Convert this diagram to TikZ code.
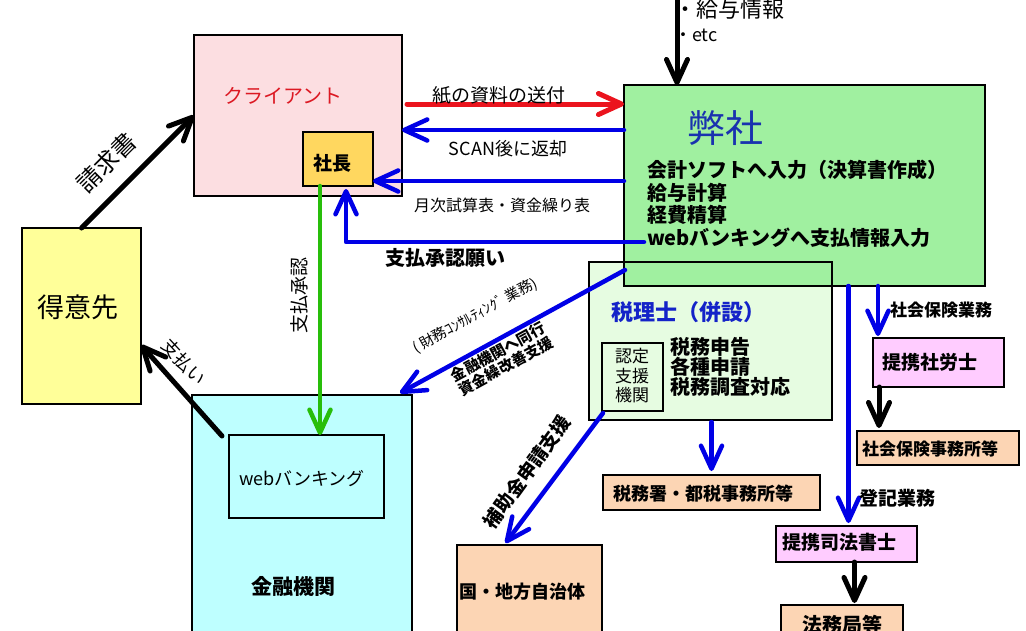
\documentclass[tikz,border=0pt]{standalone}
\usepackage{fontspec}
\setmainfont{Noto Sans CJK JP}
\usetikzlibrary{arrows.meta}
\definecolor{clientfill}{RGB}{252,222,225}
\definecolor{shachofill}{RGB}{255,215,95}
\definecolor{tokuifill}{RGB}{255,255,153}
\definecolor{kinyufill}{RGB}{190,255,255}
\definecolor{heifill}{RGB}{160,240,160}
\definecolor{zeifill}{RGB}{230,252,225}
\definecolor{peach}{RGB}{252,213,180}
\definecolor{pinkfill}{RGB}{255,204,255}
\definecolor{arrblue}{RGB}{0,0,230}
\definecolor{arrred}{RGB}{235,20,30}
\definecolor{arrgreen}{RGB}{40,190,10}
\definecolor{heiblue}{RGB}{25,50,175}
\definecolor{zeiblue}{RGB}{20,35,200}
\definecolor{clientred}{RGB}{220,25,35}
\newcommand\myfs[1]{\fontsize{#1}{#1}\selectfont}
\tikzset{
  box/.style={draw=black, line width=1.8pt, anchor=north west, inner sep=0pt, outer sep=0pt},
  lbl/.style={inner sep=0pt, outer sep=0pt},
  conn/.style={line width=#1, line cap=round, line join=round,
    -{Straight Barb[length=23pt, width=21pt, round]}},
}
\begin{document}
\begin{tikzpicture}[x=1pt,y=-1pt]
\clip (0,0) rectangle (1026,630);
\fill[white] (0,0) rectangle (1026,630);

% ---------- boxes ----------
\node[box, fill=clientfill, minimum width=208pt, minimum height=161pt] (client) at (194,35) {};
\node[box, fill=shachofill, minimum width=70pt, minimum height=54pt] (shacho) at (303,132) {};
\node[box, fill=tokuifill, minimum width=119pt, minimum height=176pt] (tokui) at (22,228) {};
\node[box, fill=kinyufill, minimum width=220pt, minimum height=260pt] (kinyu) at (192,395) {};
\node[box, fill=kinyufill, minimum width=155pt, minimum height=83pt] (webbank) at (229,435) {};
\node[box, fill=zeifill, draw=none, minimum width=243pt, minimum height=158pt] (zeirishi) at (589,262) {};
\node[box, fill=heifill, line width=1.6pt, minimum width=361pt, minimum height=201pt] (heisha) at (624,85) {};
\draw[line width=1.8pt] (zeirishi.north west) rectangle (zeirishi.south east);
\node[box, minimum width=61pt, minimum height=68pt] (nintei) at (602,343) {};
\node[box, fill=peach, minimum width=217pt, minimum height=35pt] (zeimusho) at (603,475) {};
\node[box, fill=peach, minimum width=145pt, minimum height=100pt] (kuni) at (457,545) {};
\node[box, fill=pinkfill, minimum width=131pt, minimum height=49pt] (sharoushi) at (873,338) {};
\node[box, fill=peach, minimum width=162pt, minimum height=34pt] (shakai) at (857,431) {};
\node[box, fill=pinkfill, minimum width=141pt, minimum height=36pt] (shiho) at (776,526) {};
\node[box, fill=peach, minimum width=122pt, minimum height=50pt] (houmu) at (781,605) {};

% ---------- texts in boxes ----------
\node[lbl, font=\myfs{20}, text=clientred] (clientlbl) at (283,96) {クライアント};
\node[lbl, font=\myfs{19}\bfseries] (shacholbl) at (332,163) {社長};
\node[lbl, font=\myfs{27}] (tokuilbl) at (78,307) {得意先};
\node[lbl, font=\myfs{18}] (webbanklbl) at (302,479) {webバンキング};
\node[lbl, font=\myfs{21}\bfseries] (kinyulbl) at (293,586) {金融機関};
\node[lbl, font=\myfs{38}, text=heiblue] (heititle) at (725,128) {弊社};
\node[lbl, anchor=west, font=\myfs{20}\bfseries] (hl1) at (647,170) {会計ソフトへ入力（決算書作成）};
\node[lbl, anchor=west, font=\myfs{20}\bfseries] (hl2) at (647,192.5) {給与計算};
\node[lbl, anchor=west, font=\myfs{20}\bfseries] (hl3) at (647,215) {経費精算};
\node[lbl, anchor=west, font=\myfs{20}\bfseries] (hl4) at (647,237.5) {webバンキングへ支払情報入力};
\node[lbl, anchor=west, font=\myfs{22}\bfseries, text=zeiblue] (zeititle) at (611,312) {税理士（併設）};
\node[lbl, align=center, font=\fontsize{17}{19.5}\selectfont] (ninteilbl) at (632,376) {認定\\支援\\機関};
\node[lbl, anchor=west, font=\myfs{20}\bfseries] (zl1) at (670,347) {税務申告};
\node[lbl, anchor=west, font=\myfs{20}\bfseries] (zl2) at (670,367) {各種申請};
\node[lbl, anchor=west, font=\myfs{20}\bfseries] (zl3) at (670,387) {税務調査対応};
\node[lbl, font=\myfs{18}\bfseries] (zeimusholbl) at (703,494) {税務署・都税事務所等};
\node[lbl, font=\myfs{18}\bfseries] (kunilbl) at (522,592) {国・地方自治体};
\node[lbl, font=\myfs{19}\bfseries] (sharoushilbl) at (930,362) {提携社労士};
\node[lbl, font=\myfs{17}\bfseries] (shakailbl) at (930,449) {社会保険事務所等};
\node[lbl, font=\myfs{19}\bfseries] (shiholbl) at (839,542) {提携司法書士};
\node[lbl, font=\myfs{20}\bfseries] (houmulbl) at (842,625) {法務局等};

% ---------- connectors ----------
\coordinate (topsrc) at (677,-5);
\draw[conn=5pt] (topsrc) -- (topsrc |- heisha.north);
\draw[conn=5pt] (tokui.north) -- (client.west);
\draw[conn=5pt] ([xshift=-7pt,yshift=-1pt]webbank.north west) -- ([yshift=-29pt]tokui.east);
\draw[conn=4.5pt, arrgreen] ([xshift=-18pt]shacho.south) -- ([xshift=-18pt]shacho.south |- webbank.north);
\draw[conn=5pt, arrred] ([xshift=5pt]client.east |- 0,104) -- (heisha.west |- 0,104);
\draw[conn=4.5pt, arrblue] (heisha.west |- 0,130) -- (client.east |- 0,130);
\draw[conn=4.5pt, arrblue] (heisha.west |- 0,181) -- (shacho.east |- 0,181);
\draw[conn=4.5pt, arrblue] ([xshift=20pt]heisha.west |- 0,242) -| ([xshift=8pt,yshift=-3pt]shacho.south);
\draw[conn=4.5pt, arrblue] ([xshift=1pt,yshift=16pt]heisha.south west) -- ([xshift=-12pt,yshift=2pt]kinyu.north east);
\draw[conn=4.5pt, arrblue] ([xshift=1pt,yshift=-2pt]nintei.south west) -- ([xshift=-24pt,yshift=2pt]kuni.north);
\draw[conn=4.5pt, arrblue] ([yshift=-2pt]zeirishi.south -| zeimusho.north) -- ([yshift=4pt]zeimusho.north);
\draw[conn=4.5pt, arrblue] ([xshift=5pt]sharoushi.north west |- heisha.south) -- ([xshift=5pt,yshift=2pt]sharoushi.north west);
\draw[conn=5pt] ([xshift=6pt]sharoushi.south west) -- ([xshift=6pt,yshift=3pt]sharoushi.south west |- shakai.north);
\draw[conn=4.5pt, arrblue] ([xshift=2pt]shiho.north |- heisha.south) -- ([xshift=2pt,yshift=3pt]shiho.north);
\draw[conn=5pt] ([xshift=8pt]shiho.south) -- ([xshift=8pt,yshift=2pt]shiho.south |- houmu.north);

% ---------- connector labels ----------
\node[lbl, anchor=west, font=\myfs{22}] (kyuyo) at (674,9) {・給与情報};
\node[lbl, anchor=west, font=\myfs{18}] (etc) at (674,35) {・etc};
\node[lbl, rotate=45, font=\myfs{24}] (seikyu) at (107,163) {請求書};
\node[lbl, rotate=-47, font=\myfs{18}] (shiharai) at (184,362) {支払い};
\node[lbl, rotate=90, font=\myfs{19}] (shonin) at (299,295) {支払承認};
\node[lbl, font=\myfs{19}] (kami) at (499,95) {紙の資料の送付};
\node[lbl, font=\myfs{18}] (scan) at (508,149) {SCAN後に返却};
\node[lbl, font=\myfs{16}] (getsuji) at (502,205) {月次試算表・資金繰り表};
\node[lbl, font=\myfs{20}\bfseries] (negai) at (445,258) {支払承認願い};
\node[lbl, rotate=28.7, font=\myfs{14.5}] (zaimu) at (475,316) {( 財務ｺﾝｻﾙﾃｨﾝｸﾞ 業務)};
\node[lbl, rotate=28.7, align=center, font=\fontsize{15}{16}\selectfont\bfseries] (dokou) at (502,359) {金融機関へ同行\\資金繰改善支援};
\node[lbl, rotate=54, font=\myfs{19}\bfseries] (hojo) at (527,472) {補助金申請支援};
\node[lbl, font=\myfs{17}\bfseries] (shakaigyomu) at (941,310) {社会保険業務};
\node[lbl, font=\myfs{19}\bfseries] (toki) at (897,498) {登記業務};
\end{tikzpicture}
\end{document}
